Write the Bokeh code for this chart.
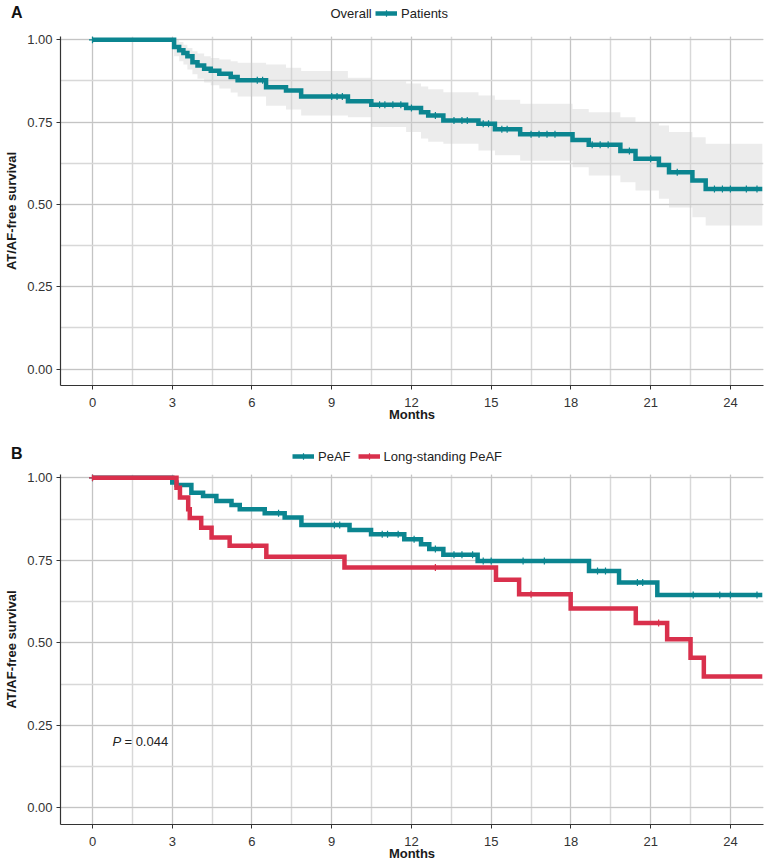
import numpy as np
from bokeh.plotting import figure
from bokeh.models import (Legend, LegendItem, Label, SingleIntervalTicker, FixedTicker,
                          Range1d, PrintfTickFormatter)
from bokeh.layouts import column
from bokeh.embed import file_html
from bokeh.resources import INLINE

# ---------------- data ----------------
FOLLOW_UP_END = 25.2

# Panel A: overall patients (Kaplan-Meier with 95% CI)
a_times = [0, 3.07, 3.26, 3.42, 3.57, 3.76, 3.95, 4.2, 4.45, 4.77, 5.2, 5.46, 6.53, 7.28,
           7.85, 9.61, 10.49, 11.8, 12.36, 12.63, 13.2, 14.52, 15.14, 16.09, 18.06, 18.67,
           19.86, 20.43, 21.31, 21.69, 22.57, 23.07]
a_surv = [1.0, 0.978, 0.968, 0.96, 0.95, 0.932, 0.922, 0.912, 0.906, 0.897, 0.887, 0.877,
          0.856, 0.846, 0.828, 0.813, 0.803, 0.793, 0.78, 0.77, 0.755, 0.745, 0.728, 0.713,
          0.696, 0.681, 0.662, 0.639, 0.62, 0.598, 0.573, 0.547]
a_upper = [1.0, 1.0, 0.993, 0.985, 0.975, 0.965, 0.958, 0.95, 0.945, 0.94, 0.935, 0.93,
           0.925, 0.915, 0.905, 0.885, 0.874, 0.867, 0.858, 0.85, 0.841, 0.831, 0.818, 0.806,
           0.79, 0.78, 0.765, 0.75, 0.74, 0.72, 0.704, 0.684]
a_lower = [1.0, 0.95, 0.935, 0.925, 0.91, 0.895, 0.882, 0.87, 0.862, 0.852, 0.84, 0.828,
           0.80, 0.788, 0.77, 0.765, 0.735, 0.72, 0.70, 0.69, 0.684, 0.664, 0.649, 0.633,
           0.613, 0.588, 0.567, 0.542, 0.517, 0.491, 0.461, 0.436]
a_censor = [0, 6.2, 6.4, 9.0, 9.2, 9.4, 10.8, 11.0, 11.3, 11.6, 12.0, 12.9, 13.6, 13.9, 14.1,
            14.7, 14.9, 15.4, 15.6, 16.5, 16.8, 17.1, 17.4, 18.8, 19.1, 19.4, 20.2, 21.0,
            22.0, 23.4, 23.7, 24.0, 24.6, 25.0]

# Panel B: PeAF vs long-standing PeAF
b_peaf_times = [0, 3.0, 3.16, 3.72, 4.16, 4.66, 5.23, 5.54, 6.48, 7.23, 7.86, 9.67, 10.48,
                11.73, 12.36, 12.67, 13.2, 14.49, 18.68, 19.81, 21.25]
b_peaf_surv = [1.0, 0.986, 0.978, 0.955, 0.945, 0.93, 0.918, 0.905, 0.893, 0.88, 0.857,
               0.842, 0.829, 0.814, 0.799, 0.784, 0.767, 0.748, 0.718, 0.683, 0.645]
b_peaf_censor = [0, 7.0, 9.1, 9.3, 10.9, 11.1, 11.5, 12.1, 12.9, 13.6, 13.9, 14.3, 14.7,
                 15.0, 16.2, 17.0, 19.0, 19.3, 20.5, 20.7, 22.6, 23.6, 24.0, 25.0]
b_ls_times = [0, 3.16, 3.29, 3.6, 3.66, 4.09, 4.48, 5.16, 6.54, 9.48, 15.18, 16.05, 17.99,
              20.44, 21.62, 22.5, 23.0]
b_ls_surv = [1.0, 0.97, 0.94, 0.905, 0.878, 0.849, 0.819, 0.794, 0.761, 0.728, 0.691, 0.647,
             0.604, 0.56, 0.511, 0.455, 0.398]
b_ls_censor = [0, 6.0, 12.9, 16.5, 21.3]

p_value_text = "= 0.044"

TEAL = "#0b8590"
RED = "#d9304c"
FONT = "Liberation Sans"
W = 764
X_RANGE = (-1.204, 25.245)
NAN = float("nan")


def step_xy(times, vals, end):
    xs, ys = [], []
    for i, (t, v) in enumerate(zip(times, vals)):
        t_next = times[i + 1] if i + 1 < len(times) else end
        xs += [t, t_next]
        ys += [v, v]
    return xs, ys


def value_at(times, vals, ts):
    idx = np.searchsorted(np.array(times), np.array(ts), side="right") - 1
    return list(np.array(vals)[idx])


def make_panel(height, top, bottom):
    p = figure(width=W, height=height, x_range=Range1d(*X_RANGE),
               y_range=Range1d(-0.05, 1.01), output_backend="svg", toolbar_location=None,
               min_border_left=60, min_border_right=1, min_border_top=top,
               min_border_bottom=bottom)
    p.outline_line_color = None
    xt = SingleIntervalTicker(interval=3, num_minor_ticks=2)
    yt = SingleIntervalTicker(interval=0.25, num_minor_ticks=2)
    p.xaxis.ticker = xt
    p.yaxis.ticker = yt
    p.xgrid.ticker = xt
    p.ygrid.ticker = yt
    p.yaxis.formatter = PrintfTickFormatter(format="%.2f")
    p.xaxis.formatter = PrintfTickFormatter(format="%d")
    for g in (p.xgrid, p.ygrid):
        g.grid_line_color = "#c4c4c4"
        g.grid_line_width = 1
        g.minor_grid_line_color = "#d8d8d8"
        g.minor_grid_line_width = 1.5
    for ax in (p.xaxis, p.yaxis):
        ax.axis_line_color = "#333333"
        ax.axis_line_width = 1.2
        ax.major_tick_line_color = "#333333"
        ax.major_tick_out = 4
        ax.major_tick_in = 0
        ax.minor_tick_line_color = None
        ax.major_label_text_font = FONT
        ax.major_label_text_font_size = "13px"
        ax.major_label_text_color = "#333333"
        ax.axis_label_text_font = FONT
        ax.axis_label_text_font_size = "13px"
        ax.axis_label_text_font_style = "bold"
        ax.axis_label_text_color = "#1a1a1a"
    p.xaxis.major_label_standoff = 8
    p.xaxis.axis_label_standoff = -3
    p.yaxis.major_label_standoff = 4
    p.yaxis.axis_label_standoff = 5
    p.xaxis.axis_label = "Months"
    p.yaxis.axis_label = "AT/AF-free survival"
    return p


def make_header(letter, height, bottom):
    h = figure(width=W, height=height, x_range=Range1d(60, 763),
               y_range=Range1d(0, height - bottom), output_backend="svg",
               toolbar_location=None, min_border_left=60, min_border_right=1,
               min_border_top=0, min_border_bottom=bottom, x_axis_location=None,
               y_axis_location="left")
    h.outline_line_color = None
    h.xgrid.visible = False
    h.ygrid.visible = False
    ax = h.yaxis[0]
    ax.ticker = FixedTicker(ticks=[])
    ax.axis_line_color = None
    ax.major_tick_line_color = None
    ax.minor_tick_line_color = None
    ax.major_tick_out = 0
    ax.major_label_text_font_size = "0px"
    ax.major_label_standoff = 0
    ax.axis_label = letter
    ax.axis_label_orientation = "horizontal"
    ax.axis_label_standoff = 38
    ax.axis_label_text_font = FONT
    ax.axis_label_text_font_size = "16px"
    ax.axis_label_text_font_style = "bold"
    ax.axis_label_text_color = "#111111"
    return h


def make_legend(items, x, vy, spacing):
    leg = Legend(items=items, orientation="horizontal", location=(x, vy))
    leg.border_line_color = None
    leg.background_fill_alpha = 0
    leg.padding = 0
    leg.margin = 0
    leg.label_text_font = FONT
    leg.label_text_font_size = "13px"
    leg.label_text_color = "#222222"
    leg.label_height = 16
    leg.glyph_height = 16
    leg.glyph_width = 22
    leg.label_standoff = 4
    leg.label_width = 10
    leg.spacing = spacing
    return leg


def swatch(h, color):
    ln = h.line([NAN], [NAN], line_color=color, line_width=4.5)
    cr = h.scatter([NAN], [NAN], marker="cross", size=7, line_color=color, line_width=1.2)
    return [ln, cr]


# ---------------- Panel A ----------------
ha = make_header("A", 30, 6)
ha.add_layout(Label(x=330, y=11, text="Overall", text_font=FONT, text_font_size="13px",
                    text_baseline="middle", text_color="#222222"))
ha.add_layout(make_legend([LegendItem(label="Patients", renderers=swatch(ha, TEAL))],
                          375 - 60, 3, 3))

pa = make_panel(408, 6, 53)
ux, uy = step_xy(a_times, a_upper, FOLLOW_UP_END)
lx, ly = step_xy(a_times, a_lower, FOLLOW_UP_END)
pa.varea(x=ux, y1=ly, y2=uy, fill_color="#cfcfcf", fill_alpha=0.4)
sx, sy = step_xy(a_times, a_surv, FOLLOW_UP_END)
pa.line(sx, sy, line_color=TEAL, line_width=4.5, line_join="miter")
pa.scatter(a_censor, value_at(a_times, a_surv, a_censor), marker="cross", size=7,
           line_color=TEAL, line_width=1.2)

# ---------------- Panel B ----------------
hb = make_header("B", 30, 0)
hb.add_layout(make_legend([LegendItem(label="PeAF", renderers=swatch(hb, TEAL)),
                           LegendItem(label="Long-standing PeAF", renderers=swatch(hb, RED))],
                          292 - 60, 4, 7))

pb = make_panel(395, 6, 39)
px_, py_ = step_xy(b_peaf_times, b_peaf_surv, FOLLOW_UP_END)
pb.line(px_, py_, line_color=TEAL, line_width=4.5, line_join="miter")
pb.scatter(b_peaf_censor, value_at(b_peaf_times, b_peaf_surv, b_peaf_censor),
           marker="cross", size=7, line_color=TEAL, line_width=1.2)
lx_, ly_ = step_xy(b_ls_times, b_ls_surv, FOLLOW_UP_END)
pb.line(lx_, ly_, line_color=RED, line_width=4.5, line_join="miter")
pb.scatter(b_ls_censor, value_at(b_ls_times, b_ls_surv, b_ls_censor),
           marker="cross", size=7, line_color=RED, line_width=1.2)
pb.add_layout(Label(x=0.75, y=0.2, text="P", text_font=FONT, text_font_size="13px",
                    text_font_style="italic", text_baseline="middle", text_color="#222222"))
pb.add_layout(Label(x=0.75, y=0.2, x_offset=12, text=p_value_text, text_font=FONT,
                    text_font_size="13px", text_baseline="middle", text_color="#222222"))

layout = column(ha, pa, hb, pb, spacing=0)
open("out.html", "w").write(file_html(layout, INLINE))
